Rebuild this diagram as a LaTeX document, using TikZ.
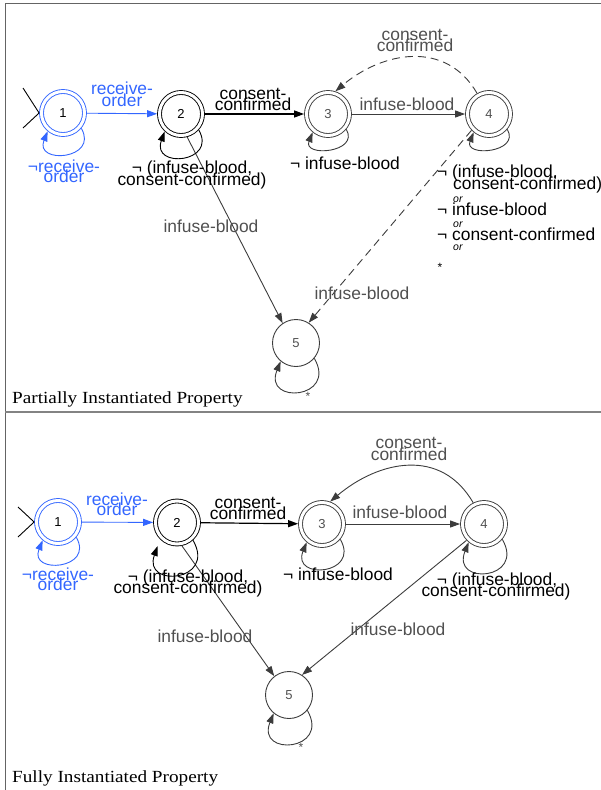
\documentclass[tikz,border=0pt]{standalone}
\usepackage{fontspec}
\setmainfont{Liberation Sans}
\newfontfamily\ttlfont[FakeStretch=1.13]{Liberation Serif}
\usetikzlibrary{arrows.meta}
\definecolor{eblue}{RGB}{51,102,255}
\definecolor{egrey}{RGB}{60,60,60}
\definecolor{tgrey}{RGB}{80,80,80}
\definecolor{fgrey}{RGB}{100,100,100}
\begin{document}
\begin{tikzpicture}[x=1pt,y=-1pt,
  lab/.style={font=\fontsize{17.4}{12}\selectfont, inner sep=0pt, anchor=base},
  labw/.style={lab, anchor=base west},
  orlab/.style={font=\fontsize{10.5}{12}\selectfont\itshape, inner sep=0pt, anchor=base west},
  star/.style={font=\fontsize{12}{12}\selectfont, inner sep=0pt},
  num/.style={font=\fontsize{13}{13}\selectfont},
  dnode/.style={circle, draw, double, double distance=3pt, line width=0.9pt, minimum size=43pt, inner sep=0pt, outer sep=2.4pt, num},
  snode/.style={circle, draw, line width=0.9pt, minimum size=47pt, inner sep=0pt, outer sep=0.45pt, num},
  edge/.style={-{Triangle[length=10pt,width=7pt]}, line width=0.9pt},
  dashes/.style={dash pattern=on 8pt off 5pt},
  ttl/.style={font=\ttlfont\fontsize{17}{17}\selectfont, anchor=base west, inner sep=0pt}
]
\useasboundingbox (0,0) rectangle (601,790);
% frame
\draw[line width=1pt, fgrey] (5,790) -- (5,3) -- (601,3);
\draw[line width=2pt, fgrey!80] (5,412) -- (601,412);

% ================= TOP PANEL =================
\node[dnode, draw=eblue] (t1) at (63,113) {1};
\node[dnode] (t2) at (181,114) {2};
\node[dnode, draw=egrey, text=tgrey] (t3) at (328,114) {3};
\node[dnode, draw=egrey, text=tgrey] (t4) at (489,114) {4};
\node[snode, draw=egrey, text=tgrey] (t5) at (296,343) {5};

\coordinate (t0a) at (23,88);
\coordinate (t0b) at (23,128);
\draw[line width=0.9pt, black] (t0a) -- (t1.west) -- (t0b);

\draw[edge, eblue] (t1) -- (t2);
\draw[edge, line width=1.2pt, black] (t2) -- (t3);
\draw[edge, egrey] (t3) -- (t4);
\draw[edge, egrey, dashes] (t4.120) .. controls +(120:62pt) and +(40:62pt) .. (t3.72);
\draw[edge, egrey] (t2.-75) -- (t5.124);
\draw[edge, egrey, dashes] (t4.-137) -- (t5.58);

\draw[edge, eblue] (t1.-40) .. controls +(-60:36pt) and +(-112:36pt) .. (t1.-130);
\draw[edge, black] (t2.-42) .. controls +(-60:38pt) and +(-110:40pt) .. (t2.-133);
\draw[edge, egrey] (t3.-40) .. controls +(-60:27pt) and +(-112:27pt) .. (t3.-130);
\draw[edge, egrey] (t4.-40) .. controls +(-60:27pt) and +(-112:27pt) .. (t4.-130);
\draw[edge, egrey] (t5.-40) .. controls +(-60:47pt) and +(-112:47pt) .. (t5.-130);

\node[lab, text=eblue] (tl1a) at (122,94) {receive-};
\node[lab, text=eblue] (tl1b) at (122,106) {order};
\node[lab, text=eblue] (tl1c) at (64,172) {¬receive-};
\node[lab, text=eblue] (tl1d) at (64,182.5) {order};
\node[lab] (tl2a) at (253,99.5) {consent-};
\node[lab] (tl2b) at (253,110.5) {confirmed};
\node[lab] (tl2c) at (192,173.5) {¬ (infuse-blood,};
\node[lab] (tl2d) at (192,185) {consent-confirmed)};
\node[lab, text=tgrey] (tl3a) at (407,110) {infuse-blood};
\node[lab, text=tgrey] (tl3b) at (415,40) {consent-};
\node[lab, text=tgrey] (tl3c) at (415,51.5) {confirmed};
\node[lab] (tl3d) at (345,169) {¬ infuse-blood};
\node[labw] (t4la) at (437,177.7) {¬ (infuse-blood,};
\node[labw] (t4lb) at (453,189) {consent-confirmed)};
\node[orlab] (t4o1) at (453,202) {or};
\node[labw] (t4lc) at (437,215) {¬ infuse-blood};
\node[orlab] (t4o2) at (453,227) {or};
\node[labw] (t4ld) at (437,240) {¬ consent-confirmed};
\node[orlab] (t4o3) at (453,250.5) {or};
\node[star] (t4le) at (440,267) {*};
\node[lab, text=tgrey] (tl5a) at (211,232.5) {infuse-blood};
\node[lab, text=tgrey] (tl5b) at (362,299) {infuse-blood};
\node[star, text=tgrey] (tl5c) at (308,396) {*};
\node[ttl] (title1) at (12,403) {Partially Instantiated Property};

% ================= BOTTOM PANEL =================
\node[dnode, draw=eblue] (b1) at (58,522) {1};
\node[dnode] (b2) at (177,522.5) {2};
\node[dnode, draw=egrey, text=tgrey] (b3) at (322,524) {3};
\node[dnode, draw=egrey, text=tgrey] (b4) at (484,524) {4};
\node[snode, draw=egrey, text=tgrey] (b5) at (289,695) {5};

\coordinate (b0a) at (18,507);
\coordinate (b0b) at (18,537);
\draw[line width=0.9pt, black] (b0a) -- (b1.west) -- (b0b);

\draw[edge, eblue] (b1) -- (b2);
\draw[edge, line width=1.2pt, black] (b2) -- (b3);
\draw[edge, egrey] (b3) -- (b4);
\draw[edge, egrey] (b4.117) .. controls +(120:64pt) and +(40:64pt) .. (b3.70);
\draw[edge, egrey] (b2.-78) -- (b5.128);
\draw[edge, egrey] (b4.-137) -- (b5.57);

\draw[edge, eblue] (b1.-40) .. controls +(-60:37pt) and +(-112:37pt) .. (b1.-130);
\draw[edge, black, shorten >=7pt] (b2.-48) .. controls +(-60:48pt) and +(-110:52pt) .. (b2.-135);
\draw[edge, egrey] (b3.-40) .. controls +(-60:41pt) and +(-112:41pt) .. (b3.-130);
\draw[edge, egrey] (b4.-40) .. controls +(-60:47pt) and +(-112:47pt) .. (b4.-130);
\draw[edge, egrey] (b5.-40) .. controls +(-60:47pt) and +(-112:47pt) .. (b5.-130);

\node[lab, text=eblue] (bl1a) at (117,505) {receive-};
\node[lab, text=eblue] (bl1b) at (117,515.7) {order};
\node[lab, text=eblue] (bl1c) at (58,580) {¬receive-};
\node[lab, text=eblue] (bl1d) at (58,590.5) {order};
\node[lab] (bl2a) at (248,508.5) {consent-};
\node[lab] (bl2b) at (248,519.5) {confirmed};
\node[lab] (bl2c) at (188,582) {¬ (infuse-blood,};
\node[lab] (bl2d) at (188,593.5) {consent-confirmed)};
\node[lab, text=tgrey] (bl3a) at (400,518.5) {infuse-blood};
\node[lab, text=tgrey] (bl3b) at (409,448) {consent-};
\node[lab, text=tgrey] (bl3c) at (409,460) {confirmed};
\node[lab] (bl3d) at (338,580) {¬ infuse-blood};
\node[lab] (bl4a) at (497,585.5) {¬ (infuse-blood,};
\node[lab] (bl4b) at (496,596) {consent-confirmed)};
\node[lab, text=tgrey] (bl5a) at (205,642) {infuse-blood};
\node[lab, text=tgrey] (bl5b) at (398,635) {infuse-blood};
\node[star, text=tgrey] (bl5c) at (301,747) {*};
\node[ttl] (title2) at (12,782) {Fully Instantiated Property};
\end{tikzpicture}
\end{document}
